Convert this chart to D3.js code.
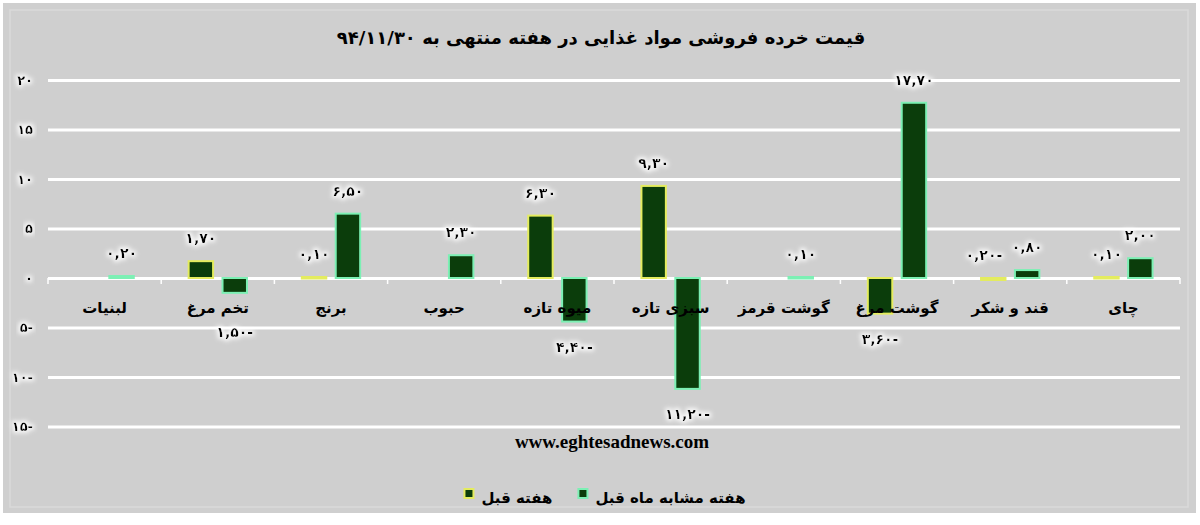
<!DOCTYPE html>
<html>
<head>
<meta charset="utf-8">
<script src="https://cdn.jsdelivr.net/npm/d3@7/dist/d3.min.js"></script>
<style>
  html, body { margin: 0; padding: 0; background: #ffffff; }
  svg { display: block; }
  text { font-family: "DejaVu Sans", "Noto Sans", sans-serif; font-weight: bold; fill: #000; }
</style>
</head>
<body>
<svg id="chart" width="1200" height="525"></svg>
<script>
// ---- data ----
const categories = ['لبنیات', 'تخم مرغ', 'برنج', 'حبوب', 'میوه تازه', 'سبزی تازه', 'گوشت قرمز', 'گوشت مرغ', 'قند و شکر', 'چای'];
const seriesNames = ['هفته قبل', 'هفته مشابه ماه قبل'];
const prevWeek = [null, 1.70, 0.10, null, 6.30, 9.30, null, -3.60, -0.20, 0.10];
const sameWeekLastMonth = [0.20, -1.50, 6.50, 2.30, -4.40, -11.20, 0.10, 17.70, 0.80, 2.00];
const yTicks = [-15, -10, -5, 0, 5, 10, 15, 20];
const titleText = 'قیمت خرده فروشی مواد غذایی در هفته منتهی به ۹۴/۱۱/۳۰';
const sourceText = 'www.eghtesadnews.com';

// ---- helpers ----
const faDigits = '۰۱۲۳۴۵۶۷۸۹';
const toFa = s => String(s).replace(/[0-9]/g, d => faDigits[+d]);
const fmtTick = v => v < 0 ? toFa(Math.abs(v)) + '-' : toFa(v);
const fmtLabel = v => {
  const s = toFa(d3.format('.2f')(Math.abs(v))).replace('.', ',');
  return v < 0 ? s + '-' : s;
};

const svg = d3.select('#chart');

// background panel
svg.append('rect').attr('x', 3).attr('y', 3).attr('width', 1193).attr('height', 510).attr('fill', '#cfcfcf');
svg.append('rect').attr('x', 10).attr('y', 10).attr('width', 1178).attr('height', 497)
  .attr('fill', 'none').attr('stroke', '#dadada').attr('stroke-width', 1.5);

// halo filter
const defs = svg.append('defs');
const f = defs.append('filter').attr('id', 'halo').attr('x', '-20%').attr('y', '-40%').attr('width', '140%').attr('height', '180%');
f.append('feMorphology').attr('in', 'SourceAlpha').attr('operator', 'dilate').attr('radius', 1.5).attr('result', 'd');
f.append('feGaussianBlur').attr('in', 'd').attr('stdDeviation', 2).attr('result', 'b');
f.append('feFlood').attr('flood-color', '#ffffff').attr('flood-opacity', 0.85);
f.append('feComposite').attr('in2', 'b').attr('operator', 'in').attr('result', 'g');
const fm = f.append('feMerge');
fm.append('feMergeNode').attr('in', 'g');
fm.append('feMergeNode').attr('in', 'SourceGraphic');

// scales
const x0 = d3.scaleBand().domain(categories).range([48, 1180]).paddingInner(0).paddingOuter(0);
const x1 = d3.scaleBand().domain(seriesNames).range([0, x0.bandwidth()]).paddingInner(0.22).paddingOuter(0.78);
const y = d3.scaleLinear().domain([-15, 20]).range([426.5, 80]);

// title
svg.append('text').attr('x', 601).attr('y', 44).attr('text-anchor', 'middle')
  .attr('direction', 'rtl').style('font-size', '18px').text(titleText);

// y axis with gridlines
const yAxis = d3.axisLeft(y).tickValues(yTicks).tickSize(-(1180 - 48)).tickPadding(15).tickFormat(fmtTick);
const gy = svg.append('g').attr('transform', 'translate(48,0)').call(yAxis);
gy.select('.domain').remove();
gy.selectAll('.tick line').attr('stroke', '#ffffff').attr('stroke-width', 3);
gy.selectAll('.tick text').attr('fill', '#000').style('font-size', '13px').style('font-family', '"DejaVu Sans", sans-serif')
  .style('font-weight', 'bold').attr('direction', 'ltr').attr('filter', 'url(#halo)');

// category boundary ticks on zero line
const bounds = categories.map(c => x0(c)).concat([x0.range()[1]]);
svg.append('g').selectAll('line').data(bounds).join('line')
  .attr('x1', d => d).attr('x2', d => d).attr('y1', y(0)).attr('y2', y(0) + 6)
  .attr('stroke', '#ffffff').attr('stroke-width', 1.5);

// bars
const rows = categories.map((c, i) => ({ cat: c, vals: [
  { s: seriesNames[0], v: prevWeek[i] },
  { s: seriesNames[1], v: sameWeekLastMonth[i] }
]}));
const strokeColor = { [seriesNames[0]]: '#e4ec5e', [seriesNames[1]]: '#7cf0b4' };
const fillColor = '#0b3d0b';

const groups = svg.append('g').selectAll('g').data(rows).join('g')
  .attr('transform', d => `translate(${x0(d.cat)},0)`);

groups.selectAll('rect').data(d => d.vals.filter(v => v.v !== null)).join('rect')
  .attr('x', d => x1(d.s) + 1)
  .attr('width', x1.bandwidth() - 2)
  .attr('y', d => Math.min(y(0), y(d.v)))
  .attr('height', d => Math.max(1.5, Math.abs(y(d.v) - y(0))))
  .attr('fill', fillColor)
  .attr('stroke', d => strokeColor[d.s])
  .attr('stroke-width', 2);

// data labels
const negLabelMin = y(-5.5);
const smallNeg = v => v < 0 && v >= -0.5;
groups.selectAll('text.lbl').data(d => d.vals.filter(v => v.v !== null)).join('text')
  .attr('class', 'lbl')
  .attr('x', d => x1(d.s) + x1.bandwidth() / 2 + (smallNeg(d.v) ? 9 : 0))
  .attr('y', d => {
    if (d.v >= -0.5) return y(Math.max(d.v, 0)) - 18;
    return Math.max(y(d.v) + 30, negLabelMin + 5);
  })
  .attr('text-anchor', d => smallNeg(d.v) ? 'end' : 'middle')
  .attr('direction', 'ltr')
  .attr('filter', 'url(#halo)')
  .style('font-size', '14px')
  .text(d => fmtLabel(d.v));

// category labels
svg.append('g').selectAll('text').data(categories).join('text')
  .attr('x', d => x0(d) + x0.bandwidth() / 2)
  .attr('y', y(0) + 35)
  .attr('text-anchor', 'middle')
  .attr('direction', 'rtl')
  .style('font-size', '15px')
  .text(d => d);

// source
svg.append('text').attr('x', 612).attr('y', 448).attr('text-anchor', 'middle')
  .style('font-family', '"Liberation Serif", "DejaVu Serif", serif').style('font-size', '19px').style('font-weight', 'bold')
  .text(sourceText);

// legend
const lg = svg.append('g');
const items = lg.selectAll('g').data(seriesNames).join('g');
items.append('rect').attr('width', 9).attr('height', 9)
  .attr('fill', fillColor).attr('stroke', d => strokeColor[d]).attr('stroke-width', 2);
items.append('text').attr('direction', 'rtl').attr('text-anchor', 'middle').attr('y', 10)
  .style('font-size', '15px').text(d => d);
let cx = 0;
const gapSq = 8, gapItem = 26;
items.each(function () {
  const g = d3.select(this);
  const t = g.select('text');
  const w = t.node().getComputedTextLength();
  g.select('rect').attr('x', cx).attr('y', -4);
  t.attr('x', cx + 9 + gapSq + w / 2);
  cx += 9 + gapSq + w + gapItem;
});
const total = cx - gapItem;
lg.attr('transform', `translate(${605 - total / 2},493)`);
</script>
</body>
</html>
